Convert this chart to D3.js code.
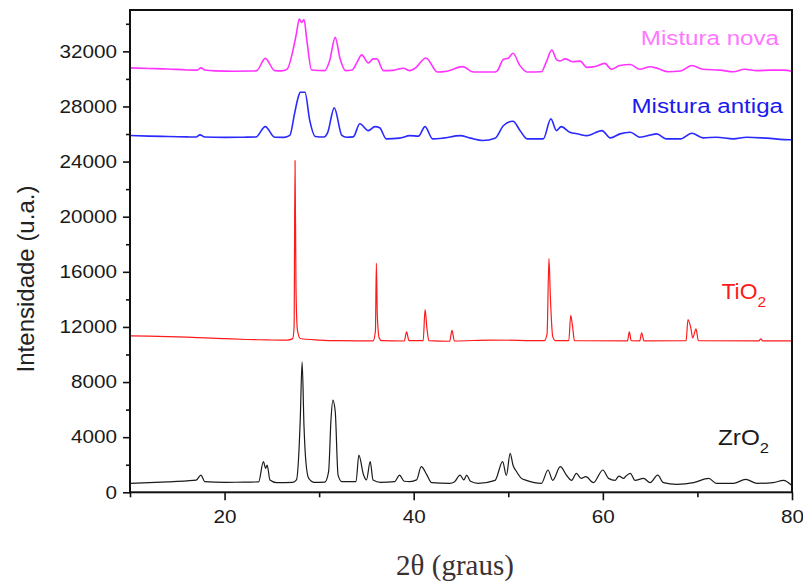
<!DOCTYPE html>
<html>
<head>
<meta charset="utf-8">
<script src="https://cdn.jsdelivr.net/npm/d3@7"></script>
<style>
  body { margin: 0; background: #fff; }
  svg { display: block; }
</style>
</head>
<body>
<div id="chart"></div>
<script>
// values: [2theta, intensity]
const misturaNova = [[10, 30800], [12, 30760], [14, 30720], [16, 30650], [17.1, 30640], [17.5, 30800], [17.9, 30640], [19, 30580], [21, 30560], [23, 30570], [23.4, 30600], [24.3, 31490], [25.3, 30600], [26.0, 30580], [26.6, 30700], [27.3, 32290], [27.6, 33300], [27.9, 34350], [28.15, 34100], [28.4, 34300], [28.7, 32800], [29.2, 30650], [30.6, 30600], [31.1, 31300], [31.7, 33010], [32.2, 31500], [32.8, 30600], [33.5, 30650], [34.0, 31200], [34.5, 31740], [35.2, 31160], [35.7, 31450], [36.1, 31450], [36.8, 30600], [37.8, 30620], [38.9, 30770], [39.6, 30600], [40.1, 30750], [41.3, 31520], [42.5, 30500], [43.5, 30560], [45.2, 30890], [46.3, 30500], [48.6, 30500], [48.8, 30560], [49.5, 31420], [50.0, 31500], [50.5, 31860], [51.2, 31000], [52.0, 30500], [53.5, 30520], [54.0, 31200], [54.6, 32100], [55.1, 31400], [55.5, 31300], [56.0, 31450], [56.8, 31250], [57.6, 31290], [58.3, 30840], [59.2, 30900], [60.2, 31130], [60.9, 30700], [61.8, 30970], [62.9, 31040], [63.9, 30700], [65.0, 30880], [65.8, 30760], [66.9, 30520], [68.2, 30570], [69.4, 30970], [70.6, 30700], [72.4, 30640], [73.8, 30520], [75.0, 30700], [76.3, 30600], [77.7, 30640], [79.1, 30640], [80, 30560]];

const misturaAntiga = [[10, 25890], [12, 25850], [14, 25820], [16, 25790], [17.0, 25780], [17.4, 25940], [17.9, 25780], [20, 25760], [22, 25770], [23.3, 25780], [24.3, 26540], [25.3, 25770], [26.3, 25760], [26.9, 25900], [27.4, 27480], [27.8, 28700], [28.0, 29030], [28.5, 29030], [29.0, 27010], [29.6, 25820], [30.5, 25780], [30.9, 26100], [31.6, 27900], [32.4, 25900], [32.9, 25770], [33.6, 25790], [34.3, 26740], [35.2, 26250], [35.9, 26540], [36.4, 26450], [37.1, 25650], [38.5, 25700], [39.6, 25880], [40.5, 25850], [41.2, 26540], [42.0, 25650], [43.1, 25700], [44.9, 25880], [46.0, 25700], [47.3, 25530], [48.6, 25700], [49.5, 26620], [50.5, 26930], [51.2, 26300], [52.0, 25650], [53.7, 25650], [54.5, 27100], [55.1, 26250], [55.6, 26540], [56.5, 26130], [57.4, 26000], [58.3, 25880], [59.9, 26250], [60.8, 25720], [61.8, 26010], [62.9, 26130], [63.9, 25770], [65.7, 26010], [66.7, 25650], [68.2, 25650], [69.4, 26060], [70.6, 25720], [72.0, 25770], [73.8, 25650], [75.2, 25770], [77.3, 25700], [79.8, 25580], [80, 25580]];

const tio2 = [[10, 11350], [12, 11330], [14, 11300], [16, 11260], [18, 11200], [20, 11150], [22.3, 11090], [24.5, 11060], [26.6, 11040], [27.2, 11150], [27.35, 12000], [27.45, 24080], [27.55, 14900], [27.7, 11800], [28.0, 11160], [30, 11050], [32, 11000], [34, 10990], [35.7, 10990], [35.95, 11700], [36.05, 16640], [36.15, 12850], [36.35, 11200], [36.6, 11000], [39.0, 10980], [39.25, 11640], [39.5, 11000], [41.0, 11000], [41.2, 13260], [41.4, 11900], [41.6, 11000], [43.8, 10960], [44.05, 11750], [44.3, 10980], [48.2, 11050], [53.8, 11000], [54.1, 11500], [54.3, 16960], [54.45, 14170], [54.7, 11300], [55, 11000], [56.4, 11000], [56.6, 12850], [56.8, 12000], [57.0, 11000], [62.6, 10990], [62.8, 11640], [63.0, 11000], [63.9, 10990], [64.1, 11580], [64.35, 10990], [68.8, 11000], [69.0, 12530], [69.3, 11930], [69.5, 11200], [69.85, 11860], [70.1, 11000], [76.5, 10990], [76.7, 11130], [76.9, 10990], [80, 10990]];

const zro2 = [[10, 650], [12, 700], [14, 760], [16, 830], [17.0, 890], [17.5, 1250], [17.9, 780], [20, 720], [22, 740], [23.6, 750], [24.1, 2220], [24.35, 1740], [24.5, 1980], [24.8, 890], [25.5, 700], [27.2, 720], [27.6, 900], [27.9, 3500], [28.0, 5240], [28.2, 9460], [28.4, 4760], [28.6, 2200], [28.9, 1010], [29.5, 720], [30.6, 740], [31.0, 1500], [31.25, 5240], [31.45, 6690], [31.7, 5880], [32.0, 1250], [32.4, 780], [33.9, 780], [34.2, 2700], [34.7, 1250], [35.0, 900], [35.4, 2220], [35.7, 890], [36.5, 720], [38.0, 780], [38.5, 1250], [39.0, 800], [39.6, 780], [40.3, 900], [40.8, 1860], [41.4, 1250], [41.9, 700], [43.8, 650], [44.3, 750], [44.9, 1250], [45.3, 900], [45.6, 1250], [46.0, 800], [46.8, 650], [48.6, 870], [49.4, 2220], [49.8, 1230], [50.2, 2830], [50.5, 1960], [50.8, 1580], [51.4, 1010], [51.9, 870], [53.5, 650], [54.2, 1620], [54.7, 870], [55.5, 1860], [56.2, 1200], [56.7, 870], [57.2, 1380], [57.7, 1010], [58.2, 1140], [59.0, 700], [60.0, 1620], [60.6, 1010], [61.3, 870], [61.7, 1180], [62.2, 1010], [62.4, 1150], [62.9, 1380], [63.4, 870], [64.3, 1010], [65.0, 700], [65.8, 1240], [66.4, 700], [67.8, 580], [69.6, 700], [71.2, 1010], [72.0, 650], [73.8, 650], [75.1, 940], [76.3, 650], [78.0, 700], [79.1, 870], [80, 480]];

const xTicksMajor = [20, 40, 60, 80];
const xTicksMinor = [10, 30, 50, 70];
const yTicksMajor = [0, 4000, 8000, 12000, 16000, 20000, 24000, 28000, 32000];
const yTicksMinor = [2000, 6000, 10000, 14000, 18000, 22000, 26000, 30000, 34000];

const width = 803, height = 585;
const margin = { top: 10, right: 11, bottom: 92.7, left: 130 };
const font = "'Liberation Sans', Arial, sans-serif";
const stretch = 1.15; // the picture's text is a bit wide

const svg = d3.select("#chart").append("svg")
    .attr("width", width)
    .attr("height", height);

svg.append("rect").attr("width", width).attr("height", height).attr("fill", "#fff");

const x = d3.scaleLinear()
    .domain([10, 80])
    .range([margin.left, width - margin.right]);

const y = d3.scaleLinear()
    .domain([0, 35000])
    .range([height - margin.bottom, margin.top]);

const line = d3.line()
    .curve(d3.curveMonotoneX)
    .x(d => x(d[0]))
    .y(d => y(d[1]));

// series
const series = [
    { data: zro2, color: "#1a1a1a", w: 1.2 },
    { data: tio2, color: "#ff1a1a", w: 1.2 },
    { data: misturaAntiga, color: "#2a2aff", w: 1.6 },
    { data: misturaNova, color: "#ff33ff", w: 1.6 }
];
series.forEach(s => {
    svg.append("path")
        .datum(s.data)
        .attr("fill", "none")
        .attr("stroke", s.color)
        .attr("stroke-width", s.w)
        .attr("stroke-linejoin", "round")
        .attr("d", line);
});

// frame
svg.append("rect")
    .attr("x", x(10)).attr("y", y(35000))
    .attr("width", x(80) - x(10)).attr("height", y(0) - y(35000))
    .attr("fill", "none").attr("stroke", "#111").attr("stroke-width", 2);

// axes
const styleAxis = g => {
    g.select(".domain").remove();
    g.selectAll(".tick line").attr("stroke", "#111").attr("stroke-width", 1.6);
    g.selectAll("text")
        .attr("font-family", font).attr("font-size", 18).attr("fill", "#1a1a1a")
        .attr("transform", `scale(${stretch},1)`);
};

svg.append("g")
    .attr("transform", `translate(${margin.left},0)`)
    .call(d3.axisLeft(y).tickValues(yTicksMajor).tickSize(7).tickPadding(4.3).tickFormat(d3.format("d")))
    .call(styleAxis);

svg.append("g")
    .attr("transform", `translate(${margin.left},0)`)
    .call(d3.axisLeft(y).tickValues(yTicksMinor).tickSize(4).tickFormat(""))
    .call(styleAxis);

svg.append("g")
    .attr("transform", `translate(0,${height - margin.bottom})`)
    .call(d3.axisBottom(x).tickValues(xTicksMajor).tickSize(8).tickPadding(10).tickFormat(d3.format("d")))
    .call(styleAxis);

svg.append("g")
    .attr("transform", `translate(0,${height - margin.bottom})`)
    .call(d3.axisBottom(x).tickValues(xTicksMinor).tickSize(5).tickFormat(""))
    .call(styleAxis);

// axis titles
svg.append("text")
    .attr("transform", "translate(34,279) rotate(-90)")
    .attr("text-anchor", "middle")
    .attr("font-family", font).attr("font-size", 24).attr("fill", "#222")
    .text("Intensidade (u.a.)");

svg.append("text")
    .attr("x", 455).attr("y", 575)
    .attr("text-anchor", "middle")
    .attr("font-family", "'Liberation Serif', 'Times New Roman', serif")
    .attr("font-size", 29).attr("fill", "#3b3131")
    .text("2θ (graus)");

// series labels
function label(txt, sub, px, py, color, size, anchor, sx) {
    const t = svg.append("text")
        .attr("transform", `translate(${px},${py}) scale(${sx},1)`)
        .attr("text-anchor", anchor)
        .attr("font-family", font).attr("font-size", size).attr("fill", color);
    t.append("tspan").text(txt);
    if (sub) t.append("tspan").attr("font-size", size * 0.68).attr("dy", size * 0.36).text(sub);
}
label("Mistura nova", null, 779, 45, "#ff77ff", 21, "end", stretch);
label("Mistura antiga", null, 783, 112.5, "#1a1aee", 21, "end", stretch);
label("TiO", "2", 721.5, 299, "#ff1a1a", 22, "start", 1.04);
label("ZrO", "2", 718, 445, "#1a1a1a", 22.5, "start", 1.08);
</script>
</body>
</html>
